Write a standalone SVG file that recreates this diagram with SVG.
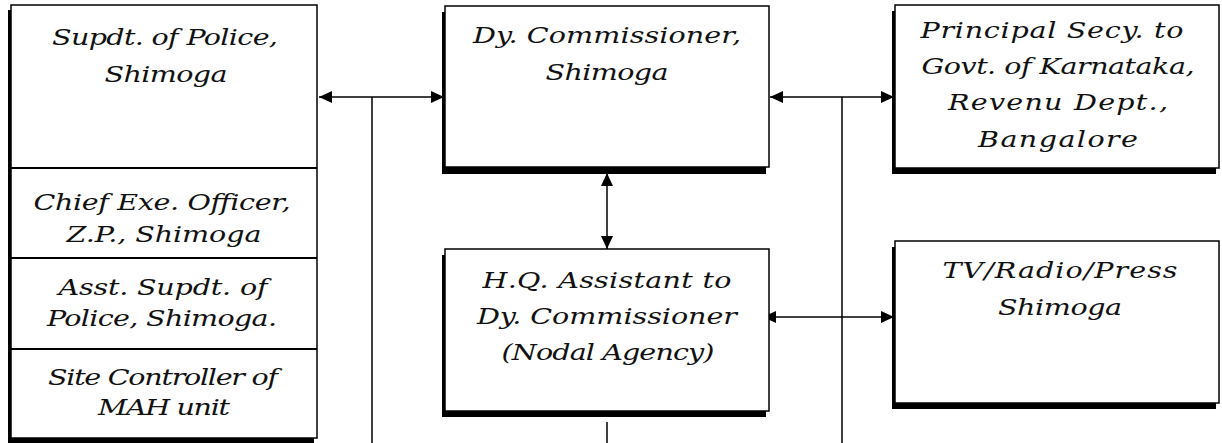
<svg xmlns="http://www.w3.org/2000/svg" width="1222" height="443" viewBox="0 0 1222 443">
<style>
.shadow{fill:#000}
.box{fill:#fff;stroke:#000;stroke-width:1.5}
.div{stroke:#000;stroke-width:2}
.t{font-family:"DejaVu Serif","Liberation Serif",serif;font-style:italic;font-size:22px;fill:#111;text-anchor:middle}
.c{stroke:#000;stroke-width:1.5;fill:none}
</style>
<defs>
<marker id="ah" viewBox="0 0 13 12" refX="13" refY="6" markerWidth="13" markerHeight="12" markerUnits="userSpaceOnUse" orient="auto-start-reverse">
<path d="M0,0 L13,6 L0,12 Z" fill="#000"/>
</marker>
</defs>
<rect width="1222" height="443" fill="#fff"/>

<g id="connectors">
<line class="c" x1="319" y1="97" x2="444" y2="97" marker-start="url(#ah)" marker-end="url(#ah)"/>
<line class="c" x1="372" y1="97" x2="372" y2="443"/>
<line class="c" x1="770" y1="97" x2="894" y2="97" marker-start="url(#ah)" marker-end="url(#ah)"/>
<line class="c" x1="842" y1="97" x2="842" y2="443"/>
<line class="c" x1="607" y1="173" x2="607" y2="249" marker-start="url(#ah)" marker-end="url(#ah)"/>
<line class="c" x1="763" y1="317" x2="894" y2="317" marker-start="url(#ah)" marker-end="url(#ah)"/>
<line class="c" x1="607" y1="422" x2="607" y2="443"/>
</g>

<g id="left-column">
<rect class="shadow" x="8" y="10" width="306" height="433"/>
<rect class="box" x="11" y="5" width="306" height="433"/>
<line class="div" x1="11" y1="168" x2="317" y2="168"/>
<line class="div" x1="11" y1="258" x2="317" y2="258"/>
<line class="div" x1="11" y1="349" x2="317" y2="349"/>
</g>
<g id="supdt-police">
<text class="t" x="165" y="45" textLength="173.8" transform="matrix(1.3,0,0,1,-49.5,0)">Supdt. of Police,</text>
<text class="t" x="166" y="82" textLength="94.6" transform="matrix(1.3,0,0,1,-49.8,0)">Shimoga</text>
</g>
<g id="chief-exe">
<text class="t" x="162" y="210" textLength="197.7" transform="matrix(1.3,0,0,1,-48.6,0)">Chief Exe. Officer,</text>
<text class="t" x="164" y="242" textLength="150" transform="matrix(1.3,0,0,1,-49.2,0)">Z.P., Shimoga</text>
</g>
<g id="asst-supdt">
<text class="t" x="163" y="295" textLength="160.8" transform="matrix(1.3,0,0,1,-48.9,0)">Asst. Supdt. of</text>
<text class="t" x="162" y="326" textLength="176.9" transform="matrix(1.3,0,0,1,-48.6,0)">Police, Shimoga.</text>
</g>
<g id="site-controller">
<text class="t" x="163" y="385" textLength="176.9" transform="matrix(1.3,0,0,1,-48.9,0)">Site Controller of</text>
<text class="t" x="164" y="415" textLength="101.5" transform="matrix(1.3,0,0,1,-49.2,0)">MAH unit</text>
</g>

<g id="dy-commissioner">
<rect class="shadow" x="442" y="12" width="324" height="162"/>
<rect class="box" x="445" y="6" width="324" height="161"/>
<text class="t" x="607" y="43" textLength="206.2" transform="matrix(1.3,0,0,1,-182.1,0)">Dy. Commissioner,</text>
<text class="t" x="607" y="80" textLength="94.6" transform="matrix(1.3,0,0,1,-182.1,0)">Shimoga</text>
</g>

<g id="principal-secy">
<rect class="shadow" x="892" y="11" width="324" height="163"/>
<rect class="box" x="895" y="5" width="324" height="163"/>
<text class="t" x="1052" y="38" textLength="202.3" transform="matrix(1.3,0,0,1,-315.6,0)">Principal Secy. to</text>
<text class="t" x="1058" y="74" textLength="210" transform="matrix(1.3,0,0,1,-317.4,0)">Govt. of Karnataka,</text>
<text class="t" x="1058" y="110" textLength="169.2" transform="matrix(1.3,0,0,1,-317.4,0)">Revenu Dept.,</text>
<text class="t" x="1058" y="147" textLength="123.1" transform="matrix(1.3,0,0,1,-317.4,0)">Bangalore</text>
</g>

<g id="hq-assistant">
<rect class="shadow" x="442" y="255" width="324" height="162"/>
<rect class="box" x="445" y="249" width="324" height="162"/>
<text class="t" x="607" y="288" textLength="191.5" transform="matrix(1.3,0,0,1,-182.1,0)">H.Q. Assistant to</text>
<text class="t" x="607" y="324" textLength="200" transform="matrix(1.3,0,0,1,-182.1,0)">Dy. Commissioner</text>
<text class="t" x="608" y="360" textLength="163.8" transform="matrix(1.3,0,0,1,-182.4,0)">(Nodal Agency)</text>
</g>

<g id="tv-radio-press">
<rect class="shadow" x="892" y="247" width="324" height="162"/>
<rect class="box" x="895" y="241" width="324" height="162"/>
<text class="t" x="1060" y="278" textLength="180.8" transform="matrix(1.3,0,0,1,-318,0)">TV/Radio/Press</text>
<text class="t" x="1060" y="315" textLength="95.4" transform="matrix(1.3,0,0,1,-318,0)">Shimoga</text>
</g>
</svg>
